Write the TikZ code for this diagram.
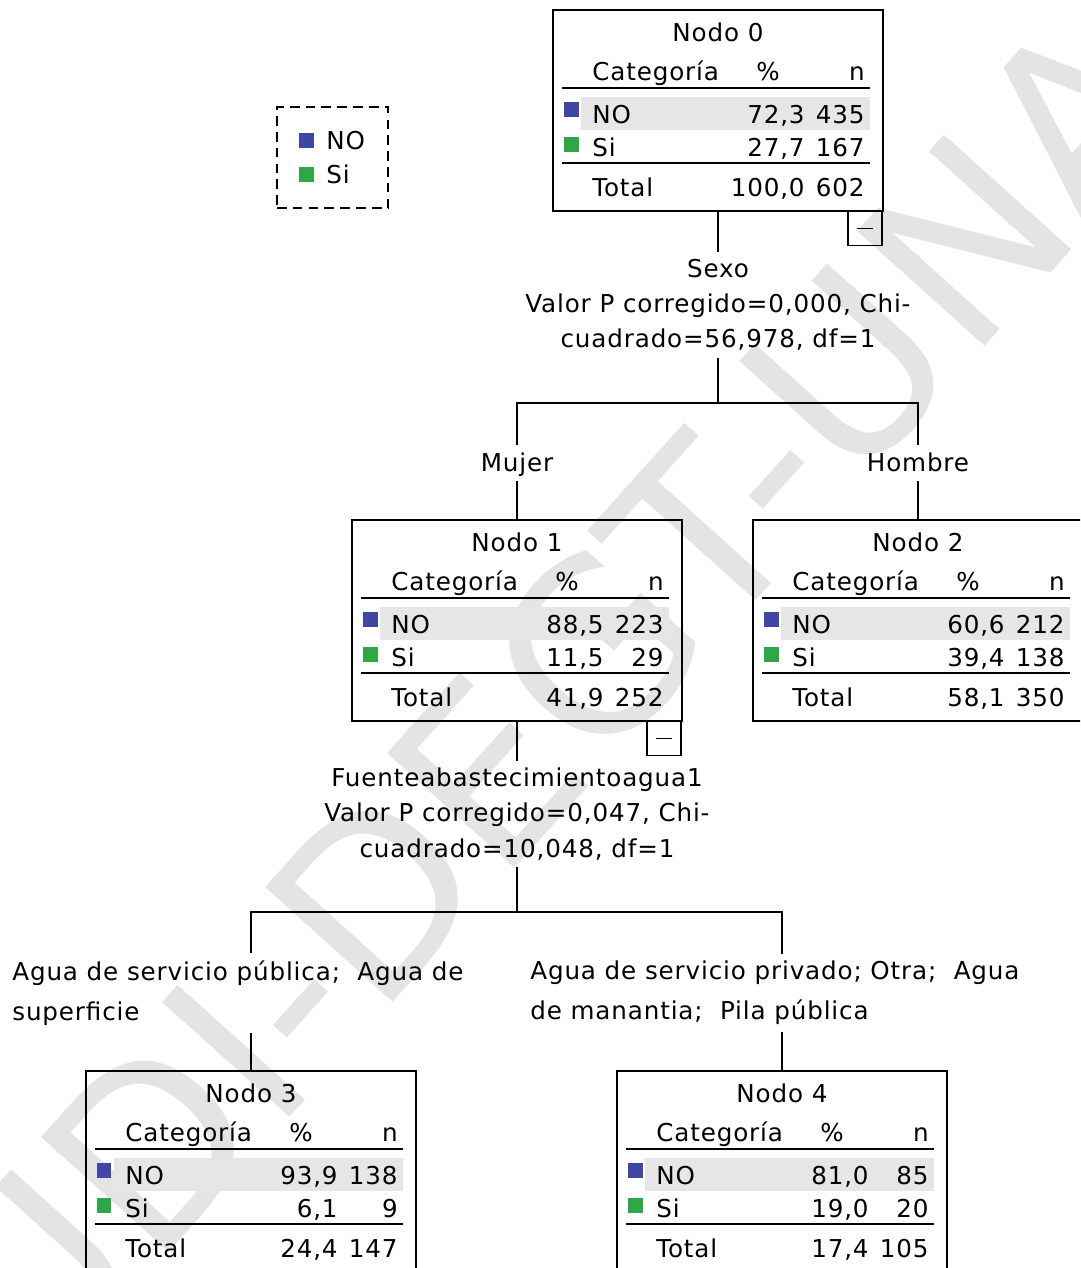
\documentclass[tikz,border=0pt]{standalone}
\usepackage{fontspec}
\setmainfont[LetterSpace=3.5]{DejaVu Sans}
\newfontfamily\wmfont{DejaVu Sans}
\definecolor{catno}{RGB}{62,72,164}
\definecolor{catsi}{RGB}{46,168,70}
\definecolor{rowgray}{RGB}{230,230,230}
\definecolor{wmgray}{RGB}{228,228,228}

\begin{document}
\begin{tikzpicture}[x=0.02cm,y=-0.02cm,
  every node/.style={inner sep=0pt,font=\fontsize{14}{20}\selectfont},
  txt/.style={text height=10.2pt,text depth=0pt},
  tbox/.style={draw,line width=1.1pt,minimum width=6.6cm,minimum height=4.02cm},
  minus/.style={draw,line width=1.1pt,minimum size=0.68cm},
  rule/.style={line width=1.1pt},
  link/.style={line width=1.1pt},
  sq/.style={minimum size=0.3cm},
  split/.style={align=center,inner sep=4pt,font=\fontsize{14}{20}\selectfont},
  leaf/.style={align=left,inner sep=4pt,font=\fontsize{14}{22.7}\selectfont},
  lab/.style={txt,inner sep=5pt},
  wm/.style={text=wmgray,rotate=48,font=\wmfont\fontsize{134}{134}\selectfont}]
\useasboundingbox (0,0) rectangle (1080,1268);
\clip (0,0) rectangle (1080,1268);
\node[wm] (wm) at (600,645) {UDI-DEGT-UNAP};
\node[draw,line width=1.1pt,dash pattern=on 5.5pt off 3.5pt,minimum width=2.22cm,minimum height=2.02cm] (lg) at (332.5,157.5) {};
\node[sq,fill=catno] (lgno) at (306,140.5) {};
\node[txt,anchor=west] (lgnot) at (326,141) {NO};
\node[sq,fill=catsi] (lgsi) at (306,174.5) {};
\node[txt,anchor=west] (lgsit) at (326,175) {Si};
\fill[rowgray] (581,97) rectangle (870,130);
\node[tbox] (n0) at (718,110.5) {};
\node[txt] (n0t) at (718,33) {Nodo 0};
\node[txt,anchor=west] (n0c) at (592,72) {Categoría};
\node[txt] (n0p) at (768,72) {\%};
\node[txt,anchor=east] (n0n) at (865,72) {n};
\draw[rule] (562,88) -- (870,88);
\node[sq,fill=catno] (n0a) at (571,109.5) {};
\node[txt,anchor=west] (n0ao) at (592,115) {NO};
\node[txt,anchor=east] (n0ap) at (805,115) {72,3};
\node[txt,anchor=east] (n0an) at (865,115) {435};
\node[sq,fill=catsi] (n0b) at (571,144) {};
\node[txt,anchor=west] (n0bo) at (592,148) {Si};
\node[txt,anchor=east] (n0bp) at (805,148) {27,7};
\node[txt,anchor=east] (n0bn) at (865,148) {167};
\draw[rule] (562,163) -- (870,163);
\node[txt,anchor=west] (n0to) at (592,188) {Total};
\node[txt,anchor=east] (n0tp) at (805,188) {100,0};
\node[txt,anchor=east] (n0tn) at (865,188) {602};
\node[minus] (m0) at (865,228.5) {\rule{0.32cm}{0.9pt}};
\fill[rowgray] (380,607) rectangle (669,640);
\node[tbox] (n1) at (517,620.5) {};
\node[txt] (n1t) at (517,543) {Nodo 1};
\node[txt,anchor=west] (n1c) at (391,582) {Categoría};
\node[txt] (n1p) at (567,582) {\%};
\node[txt,anchor=east] (n1n) at (664,582) {n};
\draw[rule] (361,598) -- (669,598);
\node[sq,fill=catno] (n1a) at (370,619.5) {};
\node[txt,anchor=west] (n1ao) at (391,625) {NO};
\node[txt,anchor=east] (n1ap) at (604,625) {88,5};
\node[txt,anchor=east] (n1an) at (664,625) {223};
\node[sq,fill=catsi] (n1b) at (370,654) {};
\node[txt,anchor=west] (n1bo) at (391,658) {Si};
\node[txt,anchor=east] (n1bp) at (604,658) {11,5};
\node[txt,anchor=east] (n1bn) at (664,658) {29};
\draw[rule] (361,673) -- (669,673);
\node[txt,anchor=west] (n1to) at (391,698) {Total};
\node[txt,anchor=east] (n1tp) at (604,698) {41,9};
\node[txt,anchor=east] (n1tn) at (664,698) {252};
\node[minus] (m1) at (664,738.5) {\rule{0.32cm}{0.9pt}};
\fill[rowgray] (781,607) rectangle (1070,640);
\node[tbox] (n2) at (918,620.5) {};
\node[txt] (n2t) at (918,543) {Nodo 2};
\node[txt,anchor=west] (n2c) at (792,582) {Categoría};
\node[txt] (n2p) at (968,582) {\%};
\node[txt,anchor=east] (n2n) at (1065,582) {n};
\draw[rule] (762,598) -- (1070,598);
\node[sq,fill=catno] (n2a) at (771,619.5) {};
\node[txt,anchor=west] (n2ao) at (792,625) {NO};
\node[txt,anchor=east] (n2ap) at (1005,625) {60,6};
\node[txt,anchor=east] (n2an) at (1065,625) {212};
\node[sq,fill=catsi] (n2b) at (771,654) {};
\node[txt,anchor=west] (n2bo) at (792,658) {Si};
\node[txt,anchor=east] (n2bp) at (1005,658) {39,4};
\node[txt,anchor=east] (n2bn) at (1065,658) {138};
\draw[rule] (762,673) -- (1070,673);
\node[txt,anchor=west] (n2to) at (792,698) {Total};
\node[txt,anchor=east] (n2tp) at (1005,698) {58,1};
\node[txt,anchor=east] (n2tn) at (1065,698) {350};
\fill[rowgray] (114,1158) rectangle (403,1191);
\node[tbox] (n3) at (251,1171.5) {};
\node[txt] (n3t) at (251,1094) {Nodo 3};
\node[txt,anchor=west] (n3c) at (125,1133) {Categoría};
\node[txt] (n3p) at (301,1133) {\%};
\node[txt,anchor=east] (n3n) at (398,1133) {n};
\draw[rule] (95,1149) -- (403,1149);
\node[sq,fill=catno] (n3a) at (104,1170.5) {};
\node[txt,anchor=west] (n3ao) at (125,1176) {NO};
\node[txt,anchor=east] (n3ap) at (338,1176) {93,9};
\node[txt,anchor=east] (n3an) at (398,1176) {138};
\node[sq,fill=catsi] (n3b) at (104,1205) {};
\node[txt,anchor=west] (n3bo) at (125,1209) {Si};
\node[txt,anchor=east] (n3bp) at (338,1209) {6,1};
\node[txt,anchor=east] (n3bn) at (398,1209) {9};
\draw[rule] (95,1224) -- (403,1224);
\node[txt,anchor=west] (n3to) at (125,1249) {Total};
\node[txt,anchor=east] (n3tp) at (338,1249) {24,4};
\node[txt,anchor=east] (n3tn) at (398,1249) {147};
\fill[rowgray] (645,1158) rectangle (934,1191);
\node[tbox] (n4) at (782,1171.5) {};
\node[txt] (n4t) at (782,1094) {Nodo 4};
\node[txt,anchor=west] (n4c) at (656,1133) {Categoría};
\node[txt] (n4p) at (832,1133) {\%};
\node[txt,anchor=east] (n4n) at (929,1133) {n};
\draw[rule] (626,1149) -- (934,1149);
\node[sq,fill=catno] (n4a) at (635,1170.5) {};
\node[txt,anchor=west] (n4ao) at (656,1176) {NO};
\node[txt,anchor=east] (n4ap) at (869,1176) {81,0};
\node[txt,anchor=east] (n4an) at (929,1176) {85};
\node[sq,fill=catsi] (n4b) at (635,1205) {};
\node[txt,anchor=west] (n4bo) at (656,1209) {Si};
\node[txt,anchor=east] (n4bp) at (869,1209) {19,0};
\node[txt,anchor=east] (n4bn) at (929,1209) {20};
\draw[rule] (626,1224) -- (934,1224);
\node[txt,anchor=west] (n4to) at (656,1249) {Total};
\node[txt,anchor=east] (n4tp) at (869,1249) {17,4};
\node[txt,anchor=east] (n4tn) at (929,1249) {105};
\node[split] (s0) at (718,305) {Sexo\\Valor P corregido=0,000, Chi-\\cuadrado=56,978, df=1};
\coordinate (b0) at (718,403);
\node[lab] (l1) at (517,463) {Mujer};
\node[lab] (l2) at (918,463) {Hombre};
\draw[link] (n0.south) -- (s0.north);
\draw[link] (s0.south) -- (b0);
\draw[link] (l1.north) |- (b0) -| (l2.north);
\draw[link] (l1.south) -- (n1.north);
\draw[link] (l2.south) -- (n2.north);
\node[split] (s1) at (517,814) {Fuenteabastecimientoagua1\\Valor P corregido=0,047, Chi-\\cuadrado=10,048, df=1};
\coordinate (b1) at (517,912);
\node[leaf,anchor=west] (l3) at (5,993) {Agua de servicio pública;~ Agua de\\superficie};
\node[leaf,anchor=west] (l4) at (523,993) {Agua de servicio privado; Otra;~ Agua\\de manantia;~ Pila pública};
\draw[link] (n1.south) -- (s1.north);
\draw[link] (s1.south) -- (b1);
\draw[link] (l3.north -| n3.north) |- (b1) -| (l4.north -| n4.north);
\draw[link] (l3.south -| n3.north) -- (n3.north);
\draw[link] (l4.south -| n4.north) -- (n4.north);
\end{tikzpicture}
\end{document}
